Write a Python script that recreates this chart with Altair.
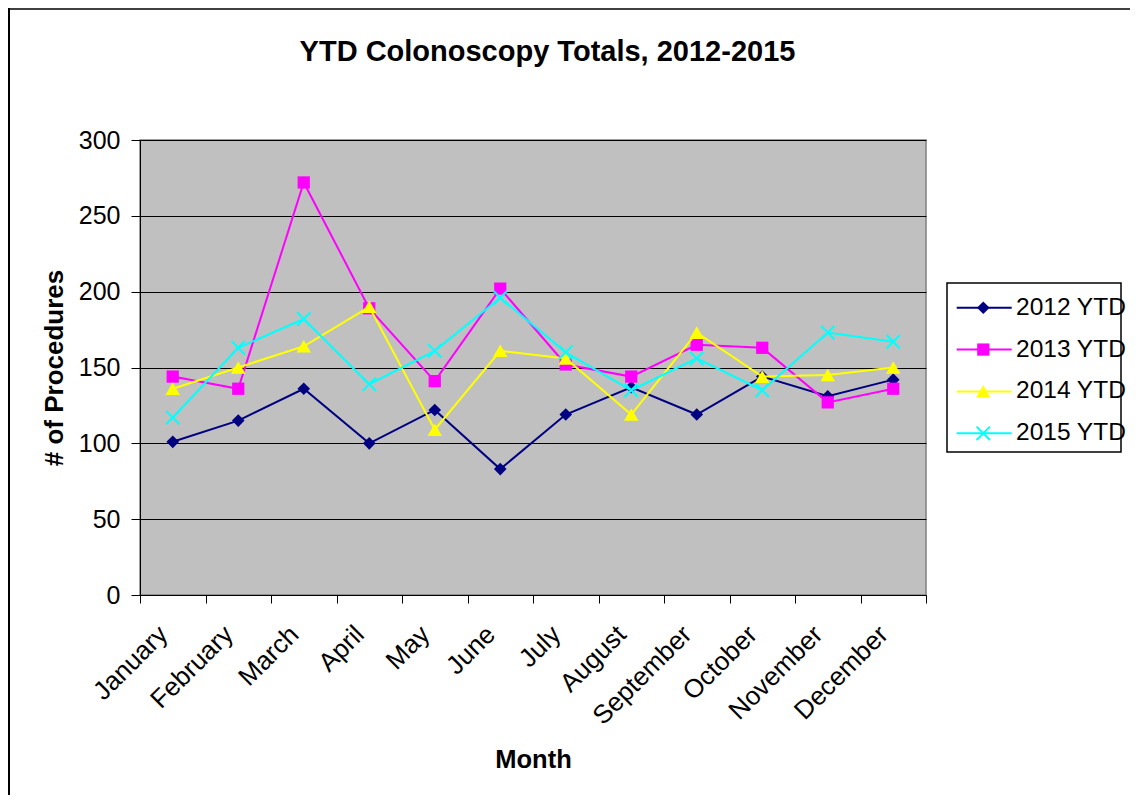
import altair as alt
import pandas as pd

months = ["January", "February", "March", "April", "May", "June",
          "July", "August", "September", "October", "November", "December"]
series_names = ["2012 YTD", "2013 YTD", "2014 YTD", "2015 YTD"]
ytd_2012 = [101, 115, 136, 100, 122, 83, 119, 137, 119, 144, 131, 142]
ytd_2013 = [144, 136, 272, 189, 141, 202, 152, 144, 165, 163, 127, 136]
ytd_2014 = [136, 150, 164, 190, 109, 161, 156, 119, 173, 144, 145, 150]
ytd_2015 = [117, 163, 182, 139, 161, 196, 160, 135, 156, 135, 173, 167]
y_ticks = [0, 50, 100, 150, 200, 250, 300]

colors = ["#000080", "#FF00FF", "#FFFF00", "#00FFFF"]
shapes = ["diamond", "square", "triangle-up", "M-1,-1L1,1M-1,1L1,-1"]
filled = [True, True, True, False]
sizes = [160, 150, 210, 180]

rows = []
for name, vals in zip(series_names, [ytd_2012, ytd_2013, ytd_2014, ytd_2015]):
    for i, (m, v) in enumerate(zip(months, vals)):
        rows.append({"series": name, "month": m, "idx": i, "value": v})
df = pd.DataFrame(rows)

FONT = "Liberation Sans"
W, H = 786, 455

label_list = "[" + ",".join("'" + m + "'" for m in months) + "]"
x_axis = alt.Axis(
    values=[i - 0.5 for i in range(len(months) + 1)],
    labelExpr=label_list + "[round(datum.value + 0.5)] || ''",
    labelAngle=-45, labelAlign="right", labelBaseline="middle",
    labelOffset=23, labelPadding=27, labelOverlap=False, labelFlush=False,
    labelFont=FONT, labelFontSize=26, labelColor="#000000",
    tickSize=8, tickColor="#000000", domainColor="#000000", grid=False,
    title="Month", titleFont=FONT, titleFontSize=25.5, titleFontWeight="bold",
    titleColor="#000000", titleX=W / 2, titleY=172, titleBaseline="alphabetic",
)
y_axis = alt.Axis(
    values=y_ticks, grid=True, gridColor="#000000", gridWidth=1,
    labelFont=FONT, labelFontSize=25, labelColor="#000000", labelPadding=11,
    tickSize=9, tickColor="#000000", domainColor="#000000",
    title="# of Procedures", titleFont=FONT, titleFontSize=26, titleFontWeight="bold",
    titleColor="#000000", titleX=-78, titleY=H / 2, titleBaseline="alphabetic",
)

x_scale = alt.Scale(domain=[-0.5, len(months) - 0.5], nice=False, zero=False)
y_scale = alt.Scale(domain=[0, 300], nice=False)

main_layers = []
for k, name in enumerate(series_names):
    base = alt.Chart(df).transform_filter(alt.datum.series == name)
    if k == 0:
        xe = alt.X("idx:Q", scale=x_scale, axis=x_axis)
        ye = alt.Y("value:Q", scale=y_scale, axis=y_axis)
    else:
        xe = alt.X("idx:Q", scale=x_scale)
        ye = alt.Y("value:Q", scale=y_scale)
    line = base.mark_line(color=colors[k], strokeWidth=2).encode(x=xe, y=ye)
    pt = base.mark_point(
        shape=shapes[k], size=sizes[k], filled=filled[k], opacity=1,
        color=colors[k], strokeWidth=0 if filled[k] else 2,
    ).encode(x=xe, y=ye)
    main_layers += [line, pt]
main = alt.layer(*main_layers)

# legend box and entries
one = pd.DataFrame({"d": [0]})
leg_df = pd.DataFrame({"series": series_names})
box = alt.Chart(one).mark_rect(fill="white", stroke="#000000", strokeWidth=1.5).encode(
    x=alt.value(807), x2=alt.value(981), y=alt.value(143), y2=alt.value(312))
leg_y = alt.Y("series:N", scale=alt.Scale(domain=series_names, type="point",
                                          range=[167.7, 293.3], padding=0), axis=None)
leg_layers = [box]
for k, name in enumerate(series_names):
    b = alt.Chart(leg_df).transform_filter(alt.datum.series == name)
    leg_layers.append(b.mark_rule(color=colors[k], strokeWidth=2).encode(
        x=alt.value(816.7), x2=alt.value(871.7), y=leg_y))
    leg_layers.append(b.mark_point(
        shape=shapes[k], size=sizes[k], filled=filled[k], opacity=1,
        color=colors[k], strokeWidth=0 if filled[k] else 2,
    ).encode(x=alt.value(843.3), y=leg_y))
    leg_layers.append(b.mark_text(align="left", baseline="middle", font=FONT,
                                  fontSize=24.5, color="#000000").encode(
        x=alt.value(876), y=leg_y, text="series:N"))
legend = alt.layer(*leg_layers)

# outer chart frame (top and left edges)
frame = alt.layer(
    alt.Chart(one).mark_rule(color="#404040", strokeWidth=2).encode(
        x=alt.value(-132), x2=alt.value(1000), y=alt.value(-131)),
    alt.Chart(one).mark_rule(color="#000000", strokeWidth=2).encode(
        x=alt.value(-131), y=alt.value(-132), y2=alt.value(700)),
)

chart = alt.layer(main, legend, frame).resolve_scale(y="independent").properties(
    width=W, height=H,
    background="white",
    autosize=alt.AutoSizeParams(type="none"),
    padding={"left": 132, "top": 132, "right": 204, "bottom": 200},
    title=alt.TitleParams(
        "YTD Colonoscopy Totals, 2012-2015", font=FONT, fontSize=29,
        fontWeight="bold", color="#000000", anchor="middle", frame="group",
        offset=-83, baseline="alphabetic", dx=14.5,
    ),
).configure_view(fill="#C0C0C0", stroke="#808080", strokeWidth=1.5)

chart.save("out.html", embed_options={"renderer": "svg", "actions": False})
